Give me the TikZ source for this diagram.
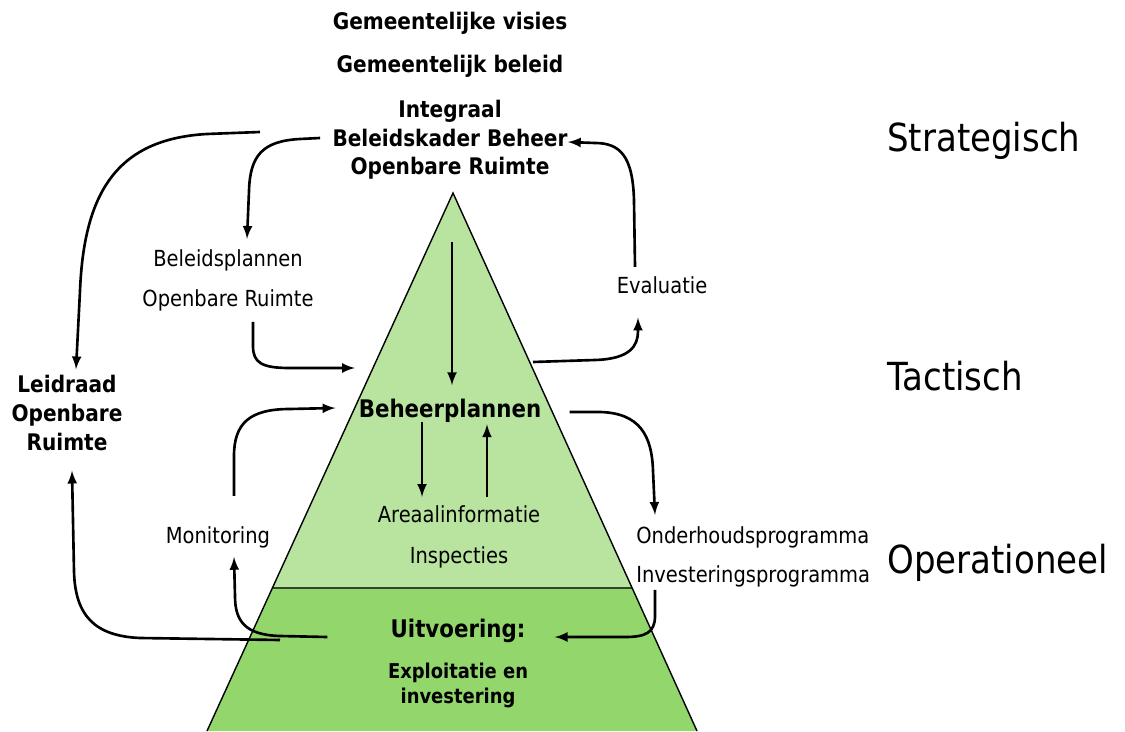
\documentclass[tikz,border=0pt]{standalone}
\usepackage{fontspec}
\setmainfont{DejaVu Sans}[FakeStretch=0.88]
\usetikzlibrary{calc}
\tikzset{>=latex}
\definecolor{lichtgroen}{RGB}{184,228,160}
\definecolor{groen}{RGB}{146,214,108}
\definecolor{scheiding}{RGB}{45,70,45}

\begin{document}
\begin{tikzpicture}[x=0.02cm,y=0.02cm,
  txt/.style={inner sep=0pt,anchor=base,font=\fontsize{12.6}{15}\selectfont},
  vet/.style={inner sep=0pt,anchor=base,font=\bfseries\fontsize{13}{16}\selectfont},
  kop/.style={inner sep=0pt,anchor=base,font=\bfseries\fontsize{13.8}{17}\selectfont},
  klein/.style={inner sep=0pt,anchor=base,font=\bfseries\fontsize{11.6}{14}\selectfont},
  niveau/.style={inner sep=0pt,anchor=base west,font=\fontsize{22}{26}\selectfont},
  pijl/.style={->,line width=1.5pt}]

\useasboundingbox (0,0) rectangle (1125,731);

% piramide
\coordinate (top) at (453,538);
\coordinate (bl) at (207,0);
\coordinate (br) at (697,0);
\coordinate (ml) at ($(bl)!0.2658!(top)$);
\coordinate (mr) at ($(br)!0.2658!(top)$);
\fill[groen] (bl) -- (ml) -- (mr) -- (br) -- cycle;
\fill[lichtgroen] (ml) -- (top) -- (mr) -- cycle;
\draw[scheiding, line width=1.4pt] (ml) -- (mr);
\draw[line width=0.8pt] (bl) -- (top) -- (br);

% strategisch
\node[vet] (visie) at (450,701) {Gemeentelijke visies};
\node[vet] (beleid) at (450,658) {Gemeentelijk beleid};
\node[vet] (kader1) at (450,613) {Integraal};
\node[vet] (kader2) at (450,584) {Beleidskader Beheer};
\node[vet] (kader3) at (450,556) {Openbare Ruimte};

\node[niveau] (strat) at (887,579) {Strategisch};
\node[niveau] (tact) at (887,341) {Tactisch};
\node[niveau] (oper) at (887,158) {Operationeel};

% tactisch
\node[txt] (bplan1) at (228,464) {Beleidsplannen};
\node[txt] (bplan2) at (228,424) {Openbare Ruimte};
\node[txt] (eval) at (662,438) {Evaluatie};
\node[vet] (leid1) at (67,339) {Leidraad};
\node[vet] (leid2) at (67,310) {Openbare};
\node[vet] (leid3) at (67,281) {Ruimte};
\node[kop] (behplan) at (450,314) {Beheerplannen};

% operationeel
\node[txt] (monit) at (218,188) {Monitoring};
\node[txt] (areaal) at (459,209) {Areaalinformatie};
\node[txt] (insp) at (459,168) {Inspecties};
\node[txt,anchor=base west] (onderh) at (636,188) {Onderhoudsprogramma};
\node[txt,anchor=base west] (invest) at (636,149) {Investeringsprogramma};
\node[kop] (uitv) at (458,94) {Uitvoering:};
\node[klein] (expl1) at (458,53) {Exploitatie en};
\node[klein] (expl2) at (458,28) {investering};

% losse eindpunten
\coordinate (stub) at (260,599);
\coordinate (pl) at (355,363);
\coordinate (pr) at (533,369);
\coordinate (piek) at (452,489);
\coordinate (voet) at (280,91);

% pijlen
\draw[pijl] (stub) -- (207,597) .. controls (118,592) and (84,540) .. (80,440) -- ($(leid1.north)+(9,5)$);
\draw[pijl] ($(kader2.base west)+(-12,9)$) -- (300,592) .. controls (262,590) and (250,575) .. (249,540) -- ($(bplan1.north)+(19,11)$);
\draw[pijl] ($(bplan2.south)+(25,-10)$) -- (253,385) .. controls (253,368) and (262,363) .. (290,363) -- (pl);
\draw[pijl] ($(eval.north)+(-27,9)$) -- (634,530) .. controls (633,575) and (620,588) .. (595,588) -- ($(kader2.base east)+(0,5)$);
\draw[pijl] (pr) -- (595,371) .. controls (630,372) and (638,385) .. (638,400) -- ($(eval.south)+(-24,-24)$);
\draw[pijl] (piek) -- ($(behplan.north)+(2,13)$);
\draw[pijl] ($(monit.north)+(16,30)$) -- (234,275) .. controls (234,308) and (250,322) .. (290,322) -- ($(behplan.base west)+(-23,9)$);
\draw[pijl] ($(behplan.base east)+(28,5)$) -- (600,319) .. controls (640,318) and (652,295) .. (653,260) -- ($(onderh.north west)+(19,11)$);
\draw[pijl] ($(behplan.south)+(-28,0)$) -- ($(areaal.north)+(-37,8)$);
\draw[pijl] ($(areaal.north)+(28,8)$) -- ($(behplan.south)+(37,-2)$);
\draw[pijl] ($(uitv.base west)+(-63,0)$) -- (280,95) .. controls (245,96) and (235,110) .. (235,135) -- ($(monit.south)+(16,-9)$);
\draw[pijl] (voet) -- (140,93) .. controls (95,95) and (75,115) .. (74,160) -- ($(leid3.south)+(5,-20)$);
\draw[pijl] ($(invest.south west)+(19,-3)$) -- (655,115) .. controls (655,98) and (645,94) .. (625,94) -- ($(uitv.base east)+(29,0)$);

\end{tikzpicture}
\end{document}
